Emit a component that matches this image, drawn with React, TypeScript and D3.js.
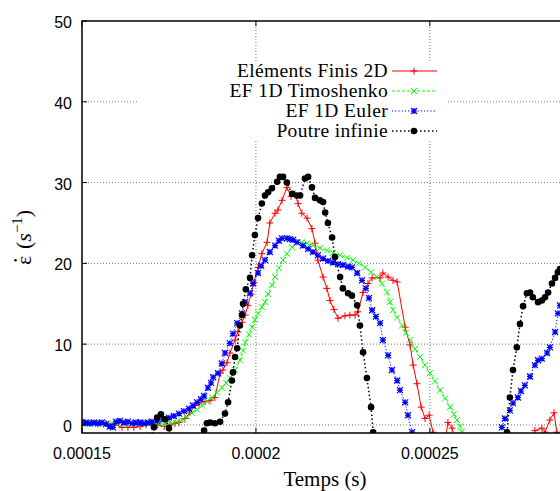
import React from "react";
import * as d3 from "d3";

// Axis ticks
const xTicks = [0.00015, 0.0002, 0.00025];
const xTickLabels = ["0.00015", "0.0002", "0.00025"];
const yTicks = [0, 10, 20, 30, 40, 50];
const seriesNames = ["Eléments Finis 2D", "EF 1D Timoshenko", "EF 1D Euler", "Poutre infinie"];

// time in microseconds, strain rate in s^-1
const red: [number, number][] = [
  [150.0,0.2],[152.3,0.2],[154.6,0.1],[156.9,0.2],[159.2,0.1],[161.5,-0.3],[163.2,-0.3],[164.9,-0.3],[166.7,-0.2],[168.4,0.0],[170.1,0.1],[171.8,0.0],[173.6,-0.2],[175.3,0.0],[176.7,0.2],[177.9,0.3],[179.6,0.8],[181.0,1.5],[182.5,2.4],[183.6,2.7],[185.4,2.9],[186.8,3.0],[188.2,3.4],[189.7,6.4],[190.5,6.8],[191.7,7.7],[192.5,8.9],[194.0,10.5],[194.8,11.5],[196.0,12.7],[196.9,13.6],[197.7,14.8],[198.6,16.2],[199.4,17.6],[200.6,19.5],[201.7,21.2],[203.2,22.6],[204.0,25.0],[205.5,26.2],[206.3,26.6],[207.5,27.8],[208.9,29.4],[210.1,28.3],[211.2,28.6],[212.1,27.4],[213.2,26.2],[214.7,25.6],[216.1,24.3],[217.0,22.5],[217.8,20.4],[219.3,18.3],[220.4,16.9],[221.3,15.4],[222.4,14.3],[223.6,13.2],[225.6,13.5],[227.0,13.6],[228.5,13.6],[229.3,14.0],[230.8,16.4],[232.2,17.5],[233.4,18.2],[235.7,18.2],[236.5,18.8],[238.0,18.3],[239.4,17.9],[240.6,17.7],[242.9,12.1],[244.3,9.9],[245.2,7.4],[246.3,5.1],[247.5,2.2],[248.6,0.8],[249.8,1.2],[250.9,-0.9],[252.1,-2.5],[254.4,-2.0],[255.2,0.3],[256.4,-0.4],[257.5,-2.5],
  [279.4,-2.5],[280.2,-0.7],[282.2,-0.4],[283.1,-0.9],[284.5,0.6],[285.7,1.5],[286.5,-0.9],[287.4,-2.5]
];
const green: [number, number][] = [
  [150.0,0.2],[151.7,0.1],[153.4,0.2],[155.2,0.2],[156.9,0.1],[158.6,0.2],[160.3,0.2],[162.1,0.1],[163.8,0.2],[165.5,0.2],[167.2,0.2],[169.0,0.1],[170.7,0.2],[172.4,0.1],[174.1,0.1],[175.9,0.2],[177.3,0.4],[178.7,0.6],[180.2,1.0],[181.6,1.5],[183.1,1.9],[184.5,2.4],[185.9,2.9],[187.4,3.4],[188.8,4.0],[190.2,4.6],[191.4,5.2],[192.5,5.8],[194.0,6.8],[195.4,8.0],[196.3,9.2],[196.9,10.2],[198.0,11.2],[198.9,12.1],[199.7,13.0],[200.6,13.8],[201.7,14.6],[202.6,15.2],[203.5,16.2],[204.6,17.3],[205.5,18.3],[206.6,19.4],[207.8,20.4],[208.9,21.2],[210.4,22.0],[211.8,22.6],[213.2,22.6],[214.7,22.5],[216.4,22.2],[218.4,21.9],[220.4,21.6],[222.2,21.3],[224.2,21.0],[226.2,20.7],[227.9,20.4],[229.6,20.0],[231.4,19.5],[233.1,18.9],[234.8,18.3],[236.2,17.5],[237.7,16.4],[238.5,15.2],[239.4,14.2],[240.6,13.3],[242.0,12.3],[243.1,11.4],[244.3,10.5],[245.7,9.4],[247.2,8.4],[248.6,7.4],[250.0,6.4],[251.5,5.4],[252.9,4.3],[254.4,3.3],[255.8,2.2],[256.9,1.3],[257.8,0.6],[258.7,-0.2],[259.2,-0.9],[260.1,-2.5]
];
const blue: [number, number][] = [
  [150.0,0.3],[151.1,0.3],[152.3,0.2],[153.4,0.3],[154.6,0.2],[155.7,0.3],[156.9,0.1],[158.0,-0.2],[158.9,-0.3],[159.8,0.4],[160.9,0.5],[162.1,0.3],[163.2,0.4],[164.4,0.2],[165.5,0.3],[166.7,0.3],[167.8,0.2],[169.0,0.3],[170.1,0.4],[171.6,0.5],[173.3,0.7],[175.0,0.9],[176.4,1.1],[177.9,1.4],[179.3,1.7],[180.8,2.0],[181.9,2.4],[183.1,2.8],[184.2,3.2],[185.1,3.6],[186.2,4.6],[187.1,5.2],[187.7,5.9],[189.1,6.4],[190.2,7.6],[191.1,8.9],[192.5,10.1],[193.4,11.3],[194.6,12.6],[196.0,13.8],[196.9,15.2],[198.3,16.3],[199.2,17.5],[200.6,18.8],[201.5,19.7],[202.6,20.4],[204.0,21.4],[205.5,22.2],[206.6,22.8],[207.5,23.1],[208.9,23.1],[209.8,23.0],[210.7,22.9],[211.8,22.6],[213.5,22.2],[215.0,21.8],[216.4,21.4],[217.8,21.0],[219.3,20.6],[220.7,20.3],[222.2,20.1],[223.6,19.9],[225.0,19.8],[226.5,19.6],[227.6,19.5],[229.1,18.8],[230.5,17.9],[231.6,16.9],[232.5,15.7],[233.4,14.2],[234.5,13.4],[235.7,12.6],[236.5,10.5],[238.0,8.6],[239.1,6.8],[240.6,5.5],[241.4,4.3],[242.9,2.8],[243.7,1.2],[244.9,-0.9],[246.0,-2.5],
  [269.6,-2.5],[270.7,-0.3],[271.6,0.8],[273.0,1.8],[273.9,2.7],[275.3,3.4],[276.2,4.2],[277.3,4.9],[278.8,6.0],[280.2,7.4],[281.1,8.0],[282.2,8.2],[283.7,8.9],[284.5,9.6],[286.0,11.5],[286.8,13.8],[287.4,14.8]
];
const black: [number, number][] = [
  [169.0,-2.5],[170.7,-0.3],[171.6,0.9],[172.7,1.3],[173.9,0.7],[175.0,-0.4],[175.9,-2.5],[183.9,-2.5],[185.1,-0.7],[185.9,0.2],[186.8,0.3],[188.2,0.2],[189.7,0.4],[191.1,1.4],[192.0,2.8],[193.1,5.5],[193.4,6.5],[194.0,8.4],[194.6,9.5],[195.4,12.3],[196.0,13.6],[196.3,15.0],[197.1,16.8],[198.3,18.2],[198.9,21.0],[199.7,23.5],[200.6,25.6],[201.7,27.4],[202.6,28.4],[203.5,28.8],[204.6,29.3],[206.1,30.1],[206.9,30.7],[207.8,30.7],[208.9,30.0],[210.4,28.6],[211.8,28.4],[212.7,28.4],[214.1,30.5],[215.0,30.7],[216.1,29.4],[217.0,28.1],[218.4,27.8],[219.3,27.6],[219.9,26.3],[220.7,25.0],[221.9,23.2],[222.7,20.8],[224.2,18.3],[225.0,16.9],[226.5,16.3],[227.6,16.0],[229.1,14.8],[229.9,12.3],[230.8,9.0],[231.9,5.8],[233.1,2.2],[233.7,-0.9],[234.5,-2.5],
  [271.3,-2.5],[272.2,-0.9],[273.0,3.4],[273.9,6.8],[275.0,9.6],[275.9,12.5],[276.8,14.7],[277.9,16.3],[278.8,16.4],[279.6,15.8],[281.1,15.2],[282.2,15.4],[283.1,15.8],[284.0,16.4],[285.1,17.5],[286.0,18.2],[286.8,18.9],[287.4,19.3]
];

const W = 560, H = 491;
const L = 82, R = 569, T = 21, B = 433;
const SERIF = "'Liberation Serif', 'Times New Roman', serif";
const SANS = "'Liberation Sans', Arial, sans-serif";

type Kind = "plus" | "cross" | "star" | "circle";

function markerPath(kind: Kind, cx: number, cy: number, s: number) {
  const p = `M${cx - s},${cy}h${2 * s}M${cx},${cy - s}v${2 * s}`;
  const c = `M${cx - s},${cy - s}l${2 * s},${2 * s}M${cx - s},${cy + s}l${2 * s},${-2 * s}`;
  if (kind === "plus") return p;
  if (kind === "cross") return c;
  return p + c;
}

export default function App() {
  const x = d3.scaleLinear().domain([0.00015, 0.00029]).range([L, R]);
  const y = d3.scaleLinear().domain([-1, 50]).range([B, T]);
  const line = d3.line<[number, number]>().x(d => x(d[0] * 1e-6)).y(d => y(d[1]));

  const series = [
    { data: red, color: "#ff0000", dash: undefined, kind: "plus" as Kind, size: 3.5, sw: 1 },
    { data: green, color: "#00ff00", dash: "3,2", kind: "cross" as Kind, size: 3, sw: 1 },
    { data: blue, color: "#0000ff", dash: "1.2,2", kind: "star" as Kind, size: 3, sw: 1.2 },
    { data: black, color: "#000000", dash: "1.5,2.5", kind: "circle" as Kind, size: 3.3, sw: 1.3 },
  ];

  const inside = (d: [number, number]) => d[1] >= -1.05 && d[1] <= 50 && d[0] * 1e-6 <= 0.00029;

  const renderMarker = (kind: Kind, cx: number, cy: number, s: number, color: string, sw: number, key: any) =>
    kind === "circle" ? (
      <circle key={key} cx={cx} cy={cy} r={s} fill={color} />
    ) : (
      <path key={key} d={markerPath(kind, cx, cy, s)} stroke={color} strokeWidth={sw} fill="none" />
    );

  const legendRows = [77, 97, 117, 137];

  return (
    <svg width={W} height={H} style={{ position: "absolute", left: 0, top: 0, background: "#fff" }}>
      <defs>
        <clipPath id="plotclip">
          <rect x={L} y={T} width={R - L} height={B - T} />
        </clipPath>
      </defs>
      <rect x={0} y={0} width={W} height={H} fill="#fff" />
      {/* grid */}
      {yTicks.filter(v => v < 50).map(v => (
        <line key={"gy" + v} x1={L} x2={R} y1={y(v)} y2={y(v)} stroke="#777" strokeWidth={1} strokeDasharray="1,2" />
      ))}
      {xTicks.filter(v => v > 0.00015).map(v => (
        <line key={"gx" + v} x1={x(v)} x2={x(v)} y1={T} y2={B} stroke="#777" strokeWidth={1} strokeDasharray="1,2" />
      ))}
      {/* legend background */}
      <rect x={138} y={62} width={309} height={78} fill="#fff" />
      {/* data */}
      <g clipPath="url(#plotclip)">
        {series.map((s, i) => (
          <g key={"s" + i}>
            <path d={line(s.data) || ""} fill="none" stroke={s.color} strokeWidth={s.kind === "circle" ? 1.5 : 1} strokeDasharray={s.dash} />
            {s.data.filter(inside).map((d, j) =>
              renderMarker(s.kind, x(d[0] * 1e-6), y(d[1]), s.size, s.color, s.sw, j)
            )}
          </g>
        ))}
      </g>
      {/* border */}
      <path d={`M${L},${T}H${R}V${B}H${L}Z`} fill="none" stroke="#000" strokeWidth={1.5} />
      {/* ticks */}
      {yTicks.map(v => (
        <g key={"ty" + v}>
          <line x1={L} x2={L + 5} y1={y(v)} y2={y(v)} stroke="#000" strokeWidth={1} />
          <text x={72} y={y(v) + 7} textAnchor="end" fontFamily={SANS} fontSize={16}>{v}</text>
        </g>
      ))}
      {xTicks.map((v, i) => (
        <g key={"tx" + v}>
          <line x1={x(v)} x2={x(v)} y1={B} y2={B - 5} stroke="#000" strokeWidth={1} />
          <line x1={x(v)} x2={x(v)} y1={T} y2={T + 5} stroke="#000" strokeWidth={1} />
          <text x={x(v)} y={459} textAnchor="middle" fontFamily={SANS} fontSize={16}>{xTickLabels[i]}</text>
        </g>
      ))}
      {/* axis labels */}
      <text x={325} y={486} textAnchor="middle" fontFamily={SERIF} fontSize={21}>Temps (s)</text>
      <g transform="translate(31,265) rotate(-90)">
        <text x={0} y={0} fontFamily={SERIF} fontSize={22}>{"\u03B5"}</text>
        <circle cx={4.8} cy={-15.5} r={1.3} fill="#000" />
        <text x={16} y={0} fontFamily={SERIF} fontSize={22}>
          <tspan>(</tspan>
          <tspan fontStyle="italic">s</tspan>
          <tspan dy={-9} fontSize={15}>{"\u22121"}</tspan>
          <tspan dy={9}>)</tspan>
        </text>
      </g>
      {/* legend */}
      {series.map((s, i) => (
        <g key={"lg" + i}>
          <text x={388} y={legendRows[i]} textAnchor="end" fontFamily={SERIF} fontSize={19.5} letterSpacing={0.35}>{seriesNames[i]}</text>
          <line x1={392} x2={437} y1={legendRows[i] - 6} y2={legendRows[i] - 6} stroke={s.color} strokeWidth={s.kind === "circle" ? 1.5 : 1} strokeDasharray={s.dash} />
          {renderMarker(s.kind, 414, legendRows[i] - 6, s.size, s.color, s.sw, "m")}
        </g>
      ))}
    </svg>
  );
}
